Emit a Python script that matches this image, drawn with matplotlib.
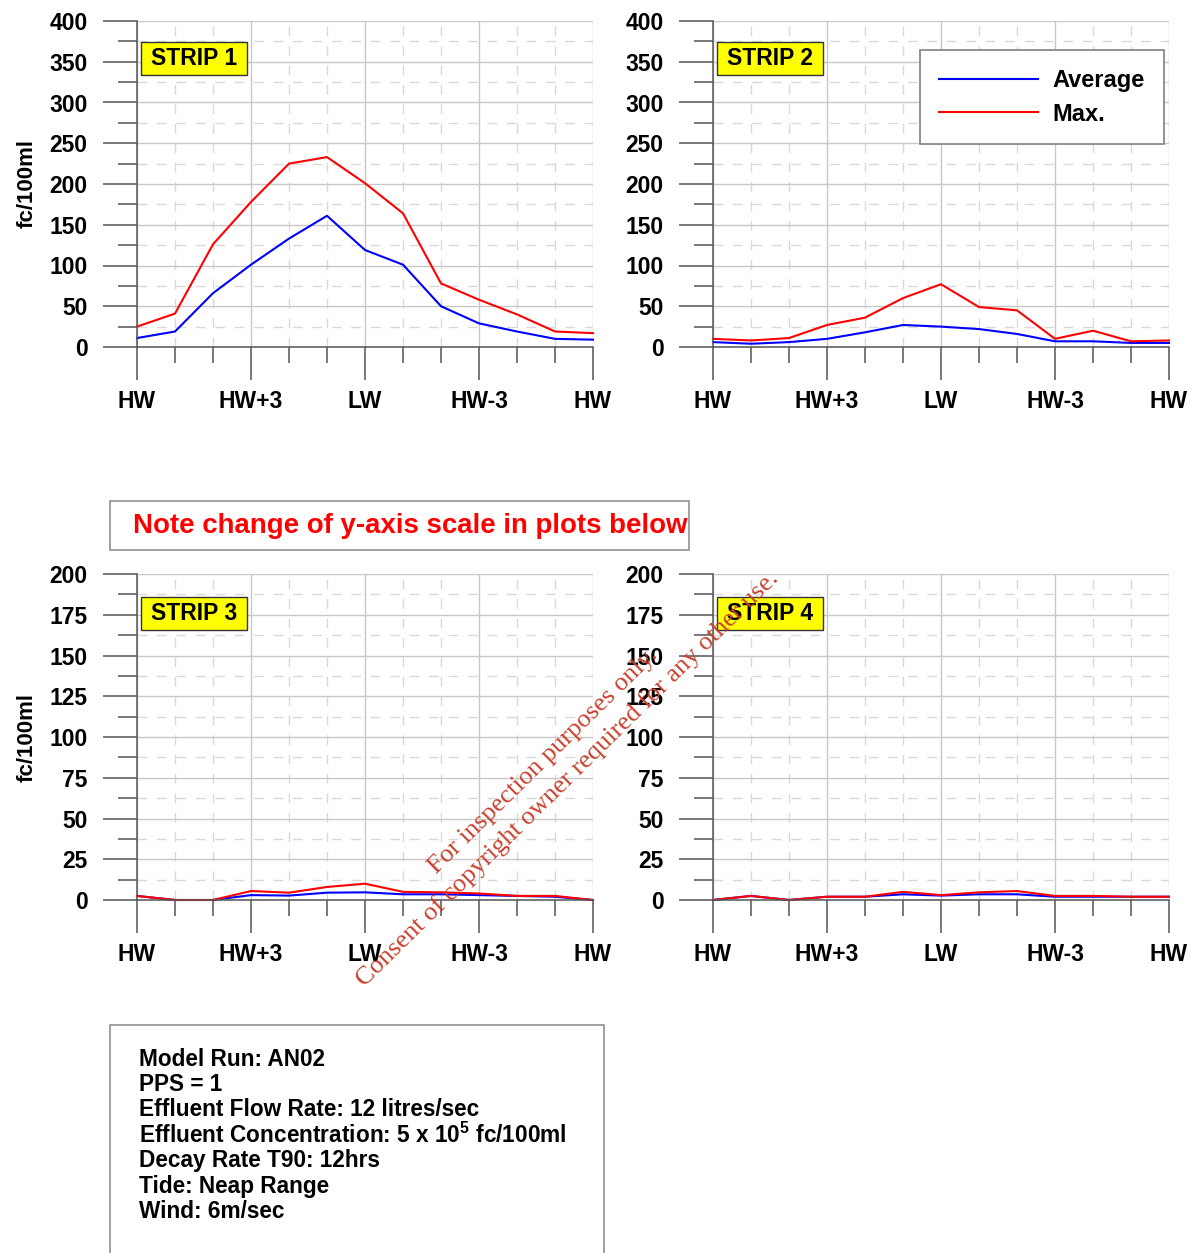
import matplotlib
matplotlib.use("Agg")
import matplotlib.pyplot as plt
from matplotlib.patches import Rectangle

plt.rcParams["font.family"] = ["Liberation Sans", "DejaVu Sans"]
plt.rcParams["font.weight"] = "bold"
plt.rcParams["mathtext.fontset"] = "custom"
plt.rcParams["mathtext.rm"] = "Liberation Sans:bold"
plt.rcParams["mathtext.it"] = "Liberation Sans:bold"
plt.rcParams["mathtext.bf"] = "Liberation Sans:bold"

# tidal cycle, half-hourly steps from HW to HW
steps = list(range(13))
tide_ticks = [0, 3, 6, 9, 12]
tide_labels = ["HW", "HW+3", "LW", "HW-3", "HW"]

strip1_avg = [11, 19, 66, 101, 133, 161, 119, 101, 50, 29, 19, 10, 9]
strip1_max = [25, 41, 126, 178, 225, 233, 201, 164, 78, 58, 40, 19, 17]
strip2_avg = [6, 4, 6, 10, 18, 27, 25, 22, 16, 7, 7, 5, 5]
strip2_max = [10, 8, 11, 27, 36, 60, 77, 49, 45, 10, 20, 7, 8]
strip3_avg = [2.5, 0, 0, 3, 2.7, 4.5, 4.7, 3.5, 3.5, 3, 2.5, 2, 0]
strip3_max = [2.5, 0, 0, 5.5, 4.5, 8, 10, 5, 4.7, 4, 2.5, 2.5, 0]
strip4_avg = [0, 2.5, 0, 2, 2, 3.5, 2.7, 3.5, 3.5, 2, 2, 2, 2]
strip4_max = [0, 2.5, 0, 2, 2, 5, 3, 4.7, 5.5, 2.5, 2.5, 2, 2]

strips = [
    ("STRIP 1", strip1_avg, strip1_max, 400, 50),
    ("STRIP 2", strip2_avg, strip2_max, 400, 50),
    ("STRIP 3", strip3_avg, strip3_max, 200, 25),
    ("STRIP 4", strip4_avg, strip4_max, 200, 25),
]

info_lines = [
    "Model Run: AN02",
    "PPS = 1",
    "Effluent Flow Rate: 12 litres/sec",
    r"Effluent Concentration: 5 x 10$^{5}$ fc/100ml",
    "Decay Rate T90: 12hrs",
    "Tide: Neap Range",
    "Wind: 6m/sec",
]

W, H = 1200, 1253
fig = plt.figure(figsize=(W / 100, H / 100), dpi=100)


def px_axes(left, top, right, bottom):
    return fig.add_axes([left / W, 1 - bottom / H, (right - left) / W, (bottom - top) / H])


boxes = [(137, 21, 593, 347), (713, 21, 1169, 347), (137, 574, 593, 900), (713, 574, 1169, 900)]
tag_y = [0.885, 0.885, 0.879, 0.879]
axes = []
for (name, avg, mx, ymax, ystep), box, ty in zip(strips, boxes, tag_y):
    ax = px_axes(*box)
    axes.append(ax)
    ax.set_xlim(0, 12)
    ax.set_ylim(0, ymax)
    ax.set_xticks(tide_ticks)
    ax.set_xticklabels(tide_labels)
    ax.set_xticks(steps, minor=True)
    ax.set_yticks(range(0, ymax + 1, ystep))
    ax.set_yticks([v / 2 for v in range(0, 2 * ymax + 1, ystep)], minor=True)
    for s in ("top", "right"):
        ax.spines[s].set_visible(False)
    for s in ("left", "bottom"):
        ax.spines[s].set_color("#555555")
        ax.spines[s].set_linewidth(1.1)
    ax.tick_params(axis="x", which="major", length=24, width=1.1, color="#555555",
                   pad=7, labelsize=16.5)
    ax.tick_params(axis="x", which="minor", length=11.5, width=1.1, color="#555555")
    ax.tick_params(axis="y", which="major", length=24.5, width=1.1, color="#555555",
                   pad=11, labelsize=16.5)
    ax.tick_params(axis="y", which="minor", length=14, width=1.1, color="#555555")
    ax.set_axisbelow(True)
    ax.grid(which="major", color="#c8c8c8", lw=1.0, ls="-")
    ax.grid(which="minor", color="#d9d9d9", lw=1.0, ls=(0, (7, 7)))

    ax.plot(steps, avg, color="#0000ff", lw=1.5, label="Average", clip_on=False)
    ax.plot(steps, mx, color="#ff0000", lw=1.5, label="Max.", clip_on=False)

    # yellow strip tag
    ax.add_patch(Rectangle((0.0088, ty - 0.0506), 0.2324, 0.1012, transform=ax.transAxes,
                           facecolor="#ffff00", edgecolor="#333333", lw=1, zorder=4))
    ax.text(0.125, ty, name, transform=ax.transAxes, ha="center", va="center",
            fontsize=16.5, fontweight="bold", zorder=5)

for ax in (axes[0], axes[2]):
    ax.set_ylabel("fc/100ml", fontsize=16, fontweight="bold")
    ax.yaxis.set_label_coords(-0.217, 0.5)

leg = axes[1].legend(loc="upper left", bbox_to_anchor=((920 - 713) / 456, (347 - 50) / 326),
                     borderaxespad=0, fancybox=False, framealpha=1, edgecolor="#808080",
                     prop=dict(size=17, weight="bold"), handlelength=4.2,
                     handletextpad=0.62, labelspacing=0.45, borderpad=0.8)
leg.get_frame().set_linewidth(1.2)

# note about the changed y-axis scale
fig.patches.append(Rectangle((110 / W, 1 - 550 / H), 579 / W, 49 / H,
                             transform=fig.transFigure, fill=False,
                             edgecolor="#909090", lw=1.2))
fig.text(133 / W, 1 - 526 / H, "Note change of y-axis scale in plots below",
         color="#ff0000", fontsize=19.9, fontweight="bold", va="center", ha="left")

# model run details
fig.patches.append(Rectangle((110 / W, 1 - 1260 / H), 494 / W, 235 / H,
                             transform=fig.transFigure, fill=False,
                             edgecolor="#909090", lw=1.2))
for i, line in enumerate(info_lines):
    fig.text(139 / W, 1 - (1059 + i * 25.5) / H, line, fontsize=16.3,
             fontweight="bold", va="center", ha="left")

# inspection stamp
stamp = dict(color="#c8412e", fontsize=19, family=["Liberation Serif", "DejaVu Serif"],
             fontweight="normal", rotation=44.5, rotation_mode="anchor",
             ha="left", va="baseline")
fig.text(436 / W, 1 - 874 / H, "For inspection purposes only.", **stamp)
fig.text(364 / W, 1 - 987 / H, "Consent of copyright owner required for any other use.", **stamp)

fig.savefig("out.png", dpi=100)
